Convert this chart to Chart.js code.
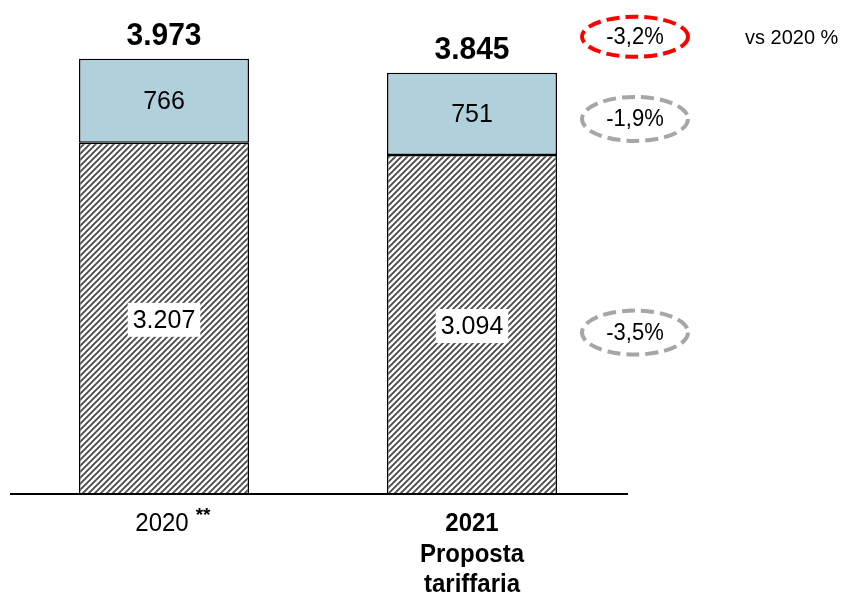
<!DOCTYPE html>
<html>
<head>
<meta charset="utf-8">
<script src="https://cdn.jsdelivr.net/npm/chart.js@4.4.0/dist/chart.umd.min.js"></script>
<style>
  html, body { margin: 0; padding: 0; background: #fff; }
  #wrap { width: 847px; height: 597px; }
</style>
</head>
<body>
<div id="wrap"><canvas id="myChart" width="847" height="597"></canvas></div>
<script>
const categories = [['2020'], ['2021', 'Proposta', 'tariffaria']];
const baseValues = [3207, 3094];
const topValues = [766, 751];
const totals = [3973, 3845];
const changeTop = '-3,2%';
const changeBlue = '-1,9%';
const changeBase = '-3,5%';
const changeNote = 'vs 2020 %';

const FONT = '"Liberation Sans", Arial, sans-serif';

function fmt(n) {
  return String(n).replace(/\B(?=(\d{3})+(?!\d))/g, '.');
}

function makeHatch() {
  const s = 6;
  const c = document.createElement('canvas');
  c.width = s;
  c.height = s;
  const g = c.getContext('2d');
  g.fillStyle = '#fff';
  g.fillRect(0, 0, s, s);
  g.strokeStyle = '#4a4a4a';
  g.lineWidth = 1.9;
  g.beginPath();
  g.moveTo(0, s); g.lineTo(s, 0);
  g.moveTo(-1, 1); g.lineTo(1, -1);
  g.moveTo(s - 1, s + 1); g.lineTo(s + 1, s - 1);
  g.stroke();
  return g.createPattern(c, 'repeat');
}

// text a bit taller than wide, like the original
function tallText(c, text, x, y, sy) {
  c.save();
  c.translate(x, y);
  c.scale(1, sy);
  c.fillText(text, 0, 0);
  c.restore();
}

const ctx = document.getElementById('myChart').getContext('2d');
const hatch = makeHatch();

function ellipse(c, x, y, ry, text, color) {
  c.save();
  c.beginPath();
  c.ellipse(x, y, 53, ry, 0, 0, Math.PI * 2);
  c.setLineDash([13, 6]);
  c.lineWidth = 4;
  c.strokeStyle = color;
  c.stroke();
  c.setLineDash([]);
  c.fillStyle = '#000';
  c.font = '22px ' + FONT;
  c.textAlign = 'center';
  c.textBaseline = 'middle';
  tallText(c, text, x, y + 1, 1.05);
  c.restore();
}

const extras = {
  id: 'extras',
  afterDatasetsDraw(chart) {
    const c = chart.ctx;
    const area = chart.chartArea;
    const y = chart.scales.y;
    const m0 = chart.getDatasetMeta(0).data;
    const m1 = chart.getDatasetMeta(1).data;
    c.save();
    // axis line
    c.strokeStyle = '#000';
    c.lineWidth = 2;
    c.beginPath();
    c.moveTo(area.left, area.bottom);
    c.lineTo(area.right + 2, area.bottom);
    c.stroke();

    c.textAlign = 'center';
    c.textBaseline = 'middle';
    for (let i = 0; i < categories.length; i++) {
      const x = m0[i].x;
      // base label with white box
      const by = (m0[i].y + m0[i].base) / 2 + 1.5;
      c.font = '25px ' + FONT;
      const t = fmt(baseValues[i]);
      const w = c.measureText(t).width + 10;
      c.fillStyle = '#fff';
      c.fillRect(x - w / 2, by - 17, w, 34);
      c.fillStyle = '#000';
      tallText(c, t, x, by + 1, 1.03);
      // top label
      const ty = (m1[i].y + m1[i].base) / 2 + 1;
      tallText(c, fmt(topValues[i]), x, ty, 1.03);
      // total
      c.font = 'bold 30px ' + FONT;
      tallText(c, fmt(totals[i]), x, y.getPixelForValue(totals[i]) - 22, 1.03);
      // category labels
      const lines = categories[i];
      for (let k = 0; k < lines.length; k++) {
        c.font = (i === 0 ? '' : 'bold ') + '24px ' + FONT;
        tallText(c, lines[k], x - (i === 0 ? 2 : 0), area.bottom + 30 + k * 30.5, 1.1);
      }
      if (i === 0) {
        const tw = c.measureText(lines[0]).width;
        c.font = 'bold 19px ' + FONT;
        c.textAlign = 'left';
        c.fillText('**', x - 2 + tw / 2 + 7, area.bottom + 22);
        c.textAlign = 'center';
      }
    }

    // change ellipses
    const ex = area.right + 9;
    ellipse(c, ex, y.getPixelForValue(totals[0]) - 22, 20, changeTop, '#ff0000');
    ellipse(c, ex, (m1[1].y + m1[1].base) / 2 + 5, 22, changeBlue, '#a6a6a6');
    ellipse(c, ex, (m0[1].y + m0[1].base) / 2 + 8, 22, changeBase, '#a6a6a6');

    c.font = '20px ' + FONT;
    c.fillStyle = '#000';
    c.textAlign = 'left';
    tallText(c, changeNote, ex + 110, y.getPixelForValue(totals[0]) - 21, 1.05);
    c.restore();
  }
};

const chart = new Chart(ctx, {
  type: 'bar',
  data: {
    labels: categories,
    datasets: [
      {
        label: 'base',
        data: baseValues,
        backgroundColor: hatch,
        borderColor: '#000',
        borderWidth: 1.5,
        borderSkipped: 'bottom',
        barPercentage: 0.552,
        categoryPercentage: 1,
      },
      {
        label: 'top',
        data: topValues,
        backgroundColor: '#b0d1dc',
        borderColor: '#000',
        borderWidth: 1.5,
        borderSkipped: false,
        barPercentage: 0.552,
        categoryPercentage: 1,
      },
    ],
  },
  options: {
    responsive: false,
    animation: false,
    layout: { padding: { left: 10, right: 221, top: 12, bottom: 103 } },
    plugins: { legend: { display: false }, tooltip: { enabled: false } },
    scales: {
      x: { stacked: true, display: false },
      y: { stacked: true, display: false, min: 0, max: 4400 },
    },
  },
  plugins: [extras],
});
</script>
</body>
</html>
